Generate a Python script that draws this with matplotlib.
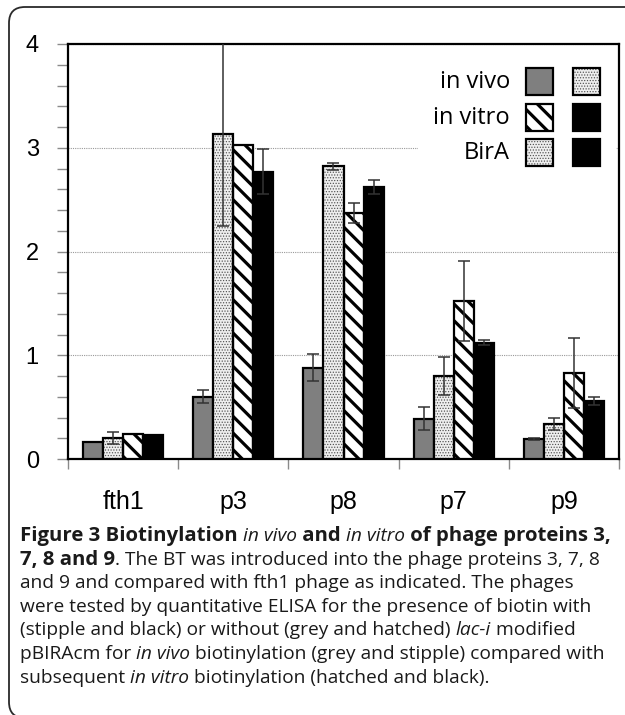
import numpy as np
import matplotlib.pyplot as plt
from matplotlib.patches import Rectangle, FancyBboxPatch
from matplotlib.ticker import MultipleLocator

groups = ['fth1', 'p3', 'p8', 'p7', 'p9']

# in vivo, no BirA (grey)
grey_vals = [0.16, 0.60, 0.88, 0.39, 0.19]
grey_err = [0.0, 0.065, 0.13, 0.11, 0.01]
# in vivo, with BirA (stipple)
stip_vals = [0.20, 3.13, 2.82, 0.80, 0.34]
stip_err = [0.06, 0.88, 0.03, 0.18, 0.06]
# in vitro, no BirA (hatched)
hatch_vals = [0.24, 3.03, 2.37, 1.52, 0.83]
hatch_err = [0.0, 0.0, 0.10, 0.385, 0.335]
# in vitro, with BirA (black)
black_vals = [0.23, 2.77, 2.62, 1.12, 0.56]
black_err = [0.0, 0.22, 0.07, 0.025, 0.035]

W, H = 625, 715
fig = plt.figure(figsize=(W / 100, H / 100), dpi=100)
ax = fig.add_axes([68 / W, 1 - 459 / H, 551 / W, 415 / H])

x = np.arange(len(groups))
w = 0.182
offs = (np.arange(4) - 1.5) * w

STIP_HATCH = '......'
STIP_LW = 0.55


def set_hlw(patches, lw):
    for p in patches:
        if hasattr(p, 'set_hatch_linewidth'):
            p.set_hatch_linewidth(lw)


def grey_bar(xs, ys, width, **kw):
    return ax.bar(xs, ys, width, color='#7f7f7f', edgecolor='black', linewidth=1.6, zorder=3, **kw)


def stipple_bar(xs, ys, width, **kw):
    with plt.rc_context({'hatch.linewidth': STIP_LW}):
        b = ax.bar(xs, ys, width, color='#eeeeee', edgecolor='#505050', hatch=STIP_HATCH,
                   linewidth=0, zorder=3, **kw)
    set_hlw(b, STIP_LW)
    ax.bar(xs, ys, width, fill=False, edgecolor='black', linewidth=1.6, zorder=3.1, **kw)
    return b


def hatched_bar(xs, ys, width, **kw):
    with plt.rc_context({'hatch.linewidth': 2.3}):
        b = ax.bar(xs, ys, width, color='white', edgecolor='black', hatch='\\\\', linewidth=1.6, zorder=3, **kw)
    set_hlw(b, 2.3)
    return b


def black_bar(xs, ys, width, **kw):
    return ax.bar(xs, ys, width, color='black', edgecolor='black', linewidth=1.6, zorder=3, **kw)


series = [
    (grey_vals, grey_err, grey_bar),
    (stip_vals, stip_err, stipple_bar),
    (hatch_vals, hatch_err, hatched_bar),
    (black_vals, black_err, black_bar),
]

for i, (vals, errs, fn) in enumerate(series):
    fn(x + offs[i], vals, w)
    vals = np.array(vals)
    errs = np.array(errs)
    m = errs > 0
    ax.errorbar(x[m] + offs[i], vals[m], yerr=errs[m], fmt='none', ecolor='#333333',
                elinewidth=1.1, capsize=4, capthick=1.1, zorder=4)

ax.set_xlim(-0.5, len(groups) - 0.5)
ax.set_ylim(0, 4)
ax.set_yticks([0, 1, 2, 3, 4])
ax.yaxis.set_minor_locator(MultipleLocator(0.2))
ax.tick_params(axis='y', which='both', direction='out', length=8, width=1, color='#8a8a8a',
               labelsize=17, pad=13)
for lab in ax.get_yticklabels():
    lab.set_family('Liberation Sans')

ax.set_xticks(np.arange(len(groups) + 1) - 0.5)
ax.set_xticklabels([])
ax.set_xticks(x, minor=True)
ax.set_xticklabels(groups, minor=True, fontsize=18, family='Liberation Sans')
ax.tick_params(axis='x', which='major', direction='out', length=7, width=1, color='#8a8a8a')
ax.tick_params(axis='x', which='minor', length=0, pad=22)

ax.grid(axis='y', which='major', linestyle=(0, (1, 1)), color='#9a9a9a', linewidth=0.8)
ax.set_axisbelow(True)
for s in ax.spines.values():
    s.set_linewidth(1.6)
    s.set_color('black')

# legend block (drawn by hand: labels on the left, two swatch columns)
ax.add_patch(Rectangle((0.635, 0.66), 0.36, 0.33, transform=ax.transAxes,
                       facecolor='white', edgecolor='none', zorder=2))
leg_labels = ['in vivo', 'in vitro', 'BirA']
leg_rows = [0.877, 0.790, 0.706]
leg_cols = [0.831, 0.917]
leg_styles = [
    [dict(facecolor='#7f7f7f'), 'stipple'],
    ['hatch', dict(facecolor='black')],
    ['stipple', dict(facecolor='black')],
]
sw, sh = 0.049, 0.065
for r, (lab, y0) in enumerate(zip(leg_labels, leg_rows)):
    ax.text(0.802, y0 + sh / 2, lab, transform=ax.transAxes, ha='right', va='center',
            fontsize=17, family='Open Sans', zorder=5)
    for c, x0 in enumerate(leg_cols):
        st = leg_styles[r][c]
        if st == 'stipple':
            with plt.rc_context({'hatch.linewidth': STIP_LW}):
                p = Rectangle((x0, y0), sw, sh, transform=ax.transAxes, facecolor='#eeeeee',
                              edgecolor='#505050', hatch=STIP_HATCH, linewidth=0, zorder=5)
            set_hlw([p], STIP_LW)
            ax.add_patch(p)
            ax.add_patch(Rectangle((x0, y0), sw, sh, transform=ax.transAxes, fill=False,
                                   edgecolor='black', linewidth=1.6, zorder=5.1))
        elif st == 'hatch':
            with plt.rc_context({'hatch.linewidth': 2.3}):
                p = Rectangle((x0, y0), sw, sh, transform=ax.transAxes, facecolor='white',
                              edgecolor='black', hatch='\\\\', linewidth=1.6, zorder=5)
            set_hlw([p], 2.3)
            ax.add_patch(p)
        else:
            ax.add_patch(Rectangle((x0, y0), sw, sh, transform=ax.transAxes, edgecolor='black',
                                   linewidth=1.6, zorder=5, **st))

# outer rounded frame
frame = FancyBboxPatch((0.09, -0.03), 6.7, 7.08 + 0.03, boxstyle='round,pad=0,rounding_size=0.16',
                       transform=fig.dpi_scale_trans, facecolor='none', edgecolor='#2a2a2a',
                       linewidth=1.3)
fig.patches.append(frame)

# caption, written run by run so bold / italic can be mixed on a line
renderer = fig.canvas.get_renderer()


def run_width(txt, size, weight, style):
    a = fig.text(0, 0, '|' + txt + '|', fontsize=size, family='Open Sans', weight=weight, style=style)
    b = fig.text(0, 0, '||', fontsize=size, family='Open Sans', weight=weight, style=style)
    wdt = a.get_window_extent(renderer).width - b.get_window_extent(renderer).width
    a.remove()
    b.remove()
    return wdt


bold_size = 14.7
line4 = 'were tested by quantitative ELISA for the presence of biotin with'
reg_size = 14.0 * 572 / run_width(line4, 14.0, 'normal', 'normal')

STY = {'B': ('bold', 'normal'), 'R': ('normal', 'normal'), 'I': ('normal', 'italic')}
caption = [
    [('Figure 3 Biotinylation ', 'B'), ('in vivo', 'I'), (' and ', 'B'), ('in vitro', 'I'),
     (' of phage proteins 3,', 'B')],
    [('7, 8 and 9', 'B'), ('. The BT was introduced into the phage proteins 3, 7, 8', 'R')],
    [('and 9 and compared with fth1 phage as indicated. The phages', 'R')],
    [(line4, 'R')],
    [('(stipple and black) or without (grey and hatched) ', 'R'), ('lac-i', 'I'), (' modified', 'R')],
    [('pBIRAcm for ', 'R'), ('in vivo', 'I'), (' biotinylation (grey and stipple) compared with', 'R')],
    [('subsequent ', 'R'), ('in vitro', 'I'), (' biotinylation (hatched and black).', 'R')],
]
y_base = 541
for k, line in enumerate(caption):
    xp = 20
    yp = y_base + k * 23.6
    for txt, s in line:
        weight, style = STY[s]
        size = bold_size if s == 'B' else reg_size
        fig.text(xp / W, 1 - yp / H, txt, fontsize=size, family='Open Sans', weight=weight,
                 style=style, va='baseline', ha='left', color='#1a1a1a')
        xp += run_width(txt, size, weight, style)

fig.savefig('out.png', dpi=100)
